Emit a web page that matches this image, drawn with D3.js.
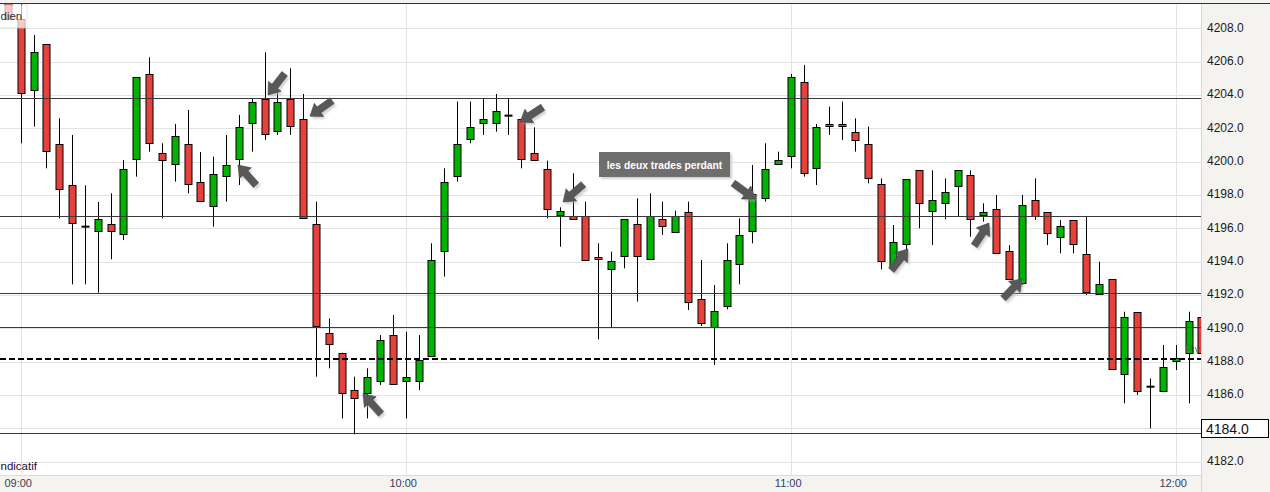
<!DOCTYPE html>
<html>
<head>
<meta charset="utf-8">
<script src="https://cdn.jsdelivr.net/npm/d3@7"></script>
<style>
html,body{margin:0;padding:0;background:#fff;}
svg{display:block;font-family:"Liberation Sans",Arial,sans-serif;}
</style>
</head>
<body>
<svg id="chart" width="1270" height="492"></svg>
<script>
// ---------- DATA (2-minute candles, first at 08:58) ----------
const startTime = new Date(2020, 0, 1, 8, 58);
const opens  = [4209.8,4208.54,4204.28,4207.04,4201.04,4198.58,4196.1,4195.82,4196.24,4195.64,4200.12,4205.24,4200.54,4199.84,4201.04,4198.76,4197.32,4199.12,4200.12,4202.3,4203.76,4201.82,4203.76,4202.54,4196.24,4189.74,4188.54,4186.28,4186.08,4186.82,4189.58,4186.82,4186.82,4188.3,4194.62,4199.12,4201.34,4202.3,4202.3,4202.76,4202.54,4200.54,4199.54,4196.84,4196.76,4196.76,4194.26,4193.6,4194.34,4196.24,4194.14,4196.54,4195.82,4196.98,4191.74,4190.1,4191.32,4193.84,4195.82,4197.8,4199.84,4200.32,4204.76,4199.6,4202.24,4202.24,4201.76,4201.04,4198.64,4193.74,4195.04,4199.48,4197.02,4197.5,4198.52,4199.18,4196.76,4197.14,4194.66,4192.7,4197.68,4196.96,4195.52,4196.48,4194.46,4192.04,4192.94,4187.24,4190.96,4186.5,4186.2,4188.04,4188.54,4190.66];
const highs  = [4210.0,4209.6,4207.6,4207.04,4202.6,4201.6,4198.58,4197.58,4198.1,4200.1,4205.06,4206.26,4201.1,4202.26,4203.1,4200.58,4200.3,4201.6,4202.8,4203.8,4206.56,4204.6,4205.6,4204.06,4197.6,4190.6,4188.54,4187.1,4187.6,4189.6,4190.8,4189.8,4189.6,4195.1,4199.6,4203.6,4203.6,4203.8,4204.06,4203.8,4202.54,4202.06,4200.06,4197.26,4199.3,4197.6,4195.1,4194.6,4196.54,4197.8,4198.1,4197.6,4197.06,4197.6,4194.1,4192.6,4195.1,4196.6,4199.8,4201.1,4200.6,4205.26,4205.8,4202.26,4203.3,4203.6,4202.6,4202.1,4199.0,4196.2,4198.94,4199.48,4199.48,4199.0,4199.48,4199.48,4197.5,4198.0,4195.0,4198.0,4199.0,4196.96,4196.5,4196.48,4196.7,4194.0,4192.94,4191.0,4190.96,4187.0,4189.0,4189.0,4191.0,4190.8];
const lows   = [4208.5,4201.1,4202.1,4199.6,4196.6,4192.64,4192.64,4192.14,4194.14,4195.3,4199.1,4200.6,4196.6,4198.8,4198.1,4197.6,4196.1,4197.6,4198.6,4200.6,4201.3,4201.6,4201.6,4196.6,4187.1,4187.6,4184.6,4183.64,4184.6,4186.6,4186.64,4184.6,4186.3,4188.3,4193.1,4198.8,4201.1,4201.6,4201.8,4201.6,4199.6,4200.14,4196.6,4194.9,4196.5,4194.14,4189.34,4190.06,4193.6,4191.6,4194.14,4195.6,4195.82,4191.1,4190.14,4187.8,4191.14,4192.64,4195.1,4197.6,4199.84,4199.6,4199.1,4198.6,4201.6,4201.3,4200.6,4198.7,4193.54,4193.6,4194.5,4196.0,4195.0,4196.54,4196.74,4195.5,4196.4,4194.5,4193.0,4192.6,4196.5,4195.0,4194.5,4194.5,4192.0,4192.04,4187.54,4185.5,4186.0,4184.0,4186.2,4187.5,4185.5,4188.3];
const closes = [4208.55,4204.1,4206.56,4200.6,4198.34,4196.3,4196.1,4196.54,4195.82,4199.54,4205.06,4201.1,4200.14,4201.52,4198.64,4197.62,4199.24,4199.78,4202.06,4203.56,4201.64,4203.56,4202.12,4196.6,4190.1,4189.1,4186.16,4185.8,4187.06,4189.28,4186.64,4187.06,4188.08,4194.08,4198.76,4201.04,4202.06,4202.54,4203.02,4202.76,4200.14,4200.14,4197.14,4197.06,4196.6,4194.14,4194.14,4194.06,4196.54,4194.34,4196.74,4196.1,4196.76,4191.6,4190.3,4191.06,4194.08,4195.58,4198.04,4199.54,4200.08,4205.06,4199.3,4202.06,4202.12,4202.12,4201.28,4199.0,4194.04,4195.16,4198.94,4197.52,4197.68,4198.16,4199.48,4196.54,4196.96,4194.5,4193.0,4197.38,4196.74,4195.7,4196.16,4195.04,4192.2,4192.66,4187.54,4190.66,4186.2,4186.5,4187.66,4188.2,4190.46,4188.5];

const yTicks = [4182,4184,4186,4188,4190,4192,4194,4196,4198,4200,4202,4204,4206,4208];
const levelLines = [4203.8, 4196.72, 4192.1, 4190.06, 4183.72];
const pivotLevel = 4188.18;
const markerValue = 4184.0;
// arrows: candle position (in candles from 08:58), price at tip, pointing angle (deg)
const arrowPos   = [20.27, 23.54, 17.93, 27.67, 39.91, 43.26, 58.22, 70.14, 76.45, 79.02];
const arrowPrice = [4204.0, 4202.73, 4199.8, 4186.07, 4202.38, 4197.58, 4197.76, 4194.76, 4196.32, 4192.96];
const arrowAngle = [128, 145, -132, -132, 147, 139, 36, -52, -57, -46];
const noteText = "les deux trades perdant";
const notePos = 46.07, notePrice = 4200.6;

// ---------- LAYOUT ----------
const W = 1270, H = 492;
const plot = {left: 0, right: 1201, top: 4, bottom: 475};
const svg = d3.select("#chart");
const candleTime = i => new Date(startTime.getTime() + i * 2 * 60000);

const x = d3.scaleTime()
  .domain([new Date(2020,0,1,9,0), new Date(2020,0,1,12,0)])
  .range([20.7, 1175.7]);
const y = d3.scaleLinear().domain([4182, 4208]).range([461.7, 28.3]);

const candles = opens.map((o, i) => ({t: candleTime(i), o, h: highs[i], l: lows[i], c: closes[i]}));

// background
svg.append("rect").attr("width", W).attr("height", H).attr("fill", "#fff");
svg.append("rect").attr("x", 0).attr("y", 0).attr("width", W).attr("height", 3).attr("fill", "#f2f2f2");

svg.append("defs").append("clipPath").attr("id", "clip")
  .append("rect").attr("x", plot.left).attr("y", plot.top)
  .attr("width", plot.right - plot.left).attr("height", plot.bottom - plot.top);
const filt = svg.select("defs").append("filter").attr("id", "blur")
  .attr("x", "-30%").attr("y", "-30%").attr("width", "160%").attr("height", "160%");
filt.append("feGaussianBlur").attr("stdDeviation", 1.2);

const g = svg.append("g").attr("clip-path", "url(#clip)");

// grid
const hourTicks = x.ticks(d3.timeHour.every(1));
g.selectAll(".hg").data(yTicks).join("line")
  .attr("x1", plot.left).attr("x2", plot.right)
  .attr("y1", d => Math.round(y(d)) + 0.5).attr("y2", d => Math.round(y(d)) + 0.5)
  .attr("stroke", "#e3e3e3").attr("stroke-width", 1);
g.selectAll(".vg").data(hourTicks).join("line")
  .attr("x1", d => Math.round(x(d)) + 0.5).attr("x2", d => Math.round(x(d)) + 0.5)
  .attr("y1", plot.top).attr("y2", plot.bottom)
  .attr("stroke", "#e3e3e3").attr("stroke-width", 1);

// candles
const cx = d => Math.round(x(d.t));
g.selectAll(".wick").data(candles).join("line")
  .attr("x1", d => cx(d) + 0.5).attr("x2", d => cx(d) + 0.5)
  .attr("y1", d => y(d.h)).attr("y2", d => y(d.l))
  .attr("stroke", "#000").attr("stroke-width", 1);
const bodies = candles.filter(d => d.o !== d.c);
g.selectAll(".body").data(bodies).join("rect")
  .attr("x", d => cx(d) - 3)
  .attr("y", d => Math.round(y(Math.max(d.o, d.c))) + 0.5)
  .attr("width", 7)
  .attr("height", d => Math.max(1, Math.round(Math.abs(y(d.o) - y(d.c)))))
  .attr("fill", d => d.c > d.o ? "#00b300" : "#e8403a")
  .attr("stroke", "#000").attr("stroke-width", 1);
g.selectAll(".doji").data(candles.filter(d => d.o === d.c)).join("line")
  .attr("x1", d => cx(d) - 3.5).attr("x2", d => cx(d) + 4.5)
  .attr("y1", d => y(d.o)).attr("y2", d => y(d.o))
  .attr("stroke", "#000").attr("stroke-width", 2);

// level lines (drawn above candles)
g.selectAll(".lvl").data(levelLines).join("line")
  .attr("x1", plot.left).attr("x2", plot.right)
  .attr("y1", d => Math.round(y(d)) + 0.5).attr("y2", d => Math.round(y(d)) + 0.5)
  .attr("stroke", "#3a3a3a").attr("stroke-width", 1);
g.append("line")
  .attr("x1", plot.left).attr("x2", plot.right)
  .attr("y1", Math.round(y(pivotLevel))).attr("y2", Math.round(y(pivotLevel)))
  .attr("stroke", "#000").attr("stroke-width", 2).attr("stroke-dasharray", "6,3");
g.append("text").attr("x", 1185).attr("y", 353).attr("font-size", 11)
  .attr("fill", "#555").attr("opacity", 0.8).text("Piv");

// arrows
const arrowPath = "M0,0 L-11,-8 L-11,-3.5 L-27,-3.5 L-27,3.5 L-11,3.5 L-11,8 Z";
const arrows = arrowPos.map((p, i) => ({t: candleTime(p), v: arrowPrice[i], a: arrowAngle[i]}));
const ag = g.selectAll(".arrow").data(arrows).join("g")
  .attr("transform", d => `translate(${x(d.t)},${y(d.v)})`);
ag.append("path").attr("d", arrowPath)
  .attr("transform", d => `translate(2,2.5) rotate(${d.a})`)
  .attr("fill", "#aaa").attr("opacity", 0.55).attr("filter", "url(#blur)");
ag.append("path").attr("d", arrowPath)
  .attr("transform", d => `rotate(${d.a})`)
  .attr("fill", "#585858").attr("stroke", "#4a4a4a").attr("stroke-width", 0.6);

// note box
const nx = x(candleTime(notePos)), ny = y(notePrice);
const noteG = g.append("g").attr("transform", `translate(${Math.round(nx)},${Math.round(ny)})`);
const noteT = noteG.append("text").attr("font-size", 10.3).attr("font-weight", "bold")
  .attr("fill", "#fff").text(noteText);
const tw = noteT.node().getComputedTextLength();
const bw = 131, bh = 25;
noteG.insert("rect", "text").attr("x", 2).attr("y", 2).attr("width", bw).attr("height", bh)
  .attr("fill", "#cfcfcf").attr("filter", "url(#blur)");
noteG.insert("rect", "text").attr("x", 0).attr("y", 0).attr("width", bw).attr("height", bh)
  .attr("fill", "#6e6e6e");
noteT.attr("x", (bw - tw) / 2).attr("y", 16.5);

// top-left label overlay
g.append("rect").attr("x", -1).attr("y", 5).attr("width", 28).attr("height", 23)
  .attr("fill", "#fff").attr("opacity", 0.72).attr("stroke", "#e0e0e0");
g.append("text").attr("x", 0.5).attr("y", 20)
  .attr("font-size", 11.5).attr("fill", "#333").text("dien");
g.append("text").attr("x", 0.5).attr("y", 470)
  .attr("font-size", 11.5).attr("fill", "#2a0f33").text("ndicatif");

// top border
svg.append("line").attr("x1", 0).attr("x2", W).attr("y1", 3.5).attr("y2", 3.5)
  .attr("stroke", "#333").attr("stroke-width", 1);

// right axis panel
svg.append("rect").attr("x", plot.right).attr("y", 4).attr("width", W - plot.right).attr("height", H - 4)
  .attr("fill", "#f4f3ef");
svg.append("line").attr("x1", plot.right + 0.5).attr("x2", plot.right + 0.5).attr("y1", 4).attr("y2", H)
  .attr("stroke", "#d8d8d8");
const yAxis = svg.append("g").attr("transform", `translate(${plot.right},-1)`)
  .call(d3.axisRight(y).tickValues(yTicks.filter(v => v !== markerValue))
    .tickFormat(d => d.toFixed(1)).tickSize(0).tickPadding(6));
yAxis.select(".domain").remove();
yAxis.selectAll("text").attr("font-size", 12).attr("fill", "#1a1a1a")
  .attr("font-family", '"Liberation Sans",Arial,sans-serif');

// current value marker
svg.append("rect").attr("x", plot.right + 0.5).attr("y", Math.round(y(markerValue)) - 8.5)
  .attr("width", 67).attr("height", 18).attr("fill", "#fff").attr("stroke", "#000");
svg.append("text").attr("x", plot.right + 5).attr("y", y(markerValue) + 5.5)
  .attr("font-size", 14).attr("fill", "#111").text(markerValue.toFixed(1));

// bottom axis panel
svg.append("rect").attr("x", 0).attr("y", plot.bottom).attr("width", plot.right).attr("height", H - plot.bottom)
  .attr("fill", "#f4f3ef");
svg.append("line").attr("x1", 0).attr("x2", plot.right).attr("y1", plot.bottom + 0.5).attr("y2", plot.bottom + 0.5)
  .attr("stroke", "#dcdcdc");
const xAxis = svg.append("g").attr("transform", `translate(-3,${plot.bottom})`)
  .call(d3.axisBottom(x).ticks(d3.timeHour.every(1)).tickFormat(d3.timeFormat("%H:%M"))
    .tickSize(0).tickPadding(4));
xAxis.select(".domain").remove();
xAxis.selectAll("text").attr("font-size", 11).attr("fill", "#34405a")
  .attr("font-family", '"Liberation Sans",Arial,sans-serif');
</script>
</body>
</html>
